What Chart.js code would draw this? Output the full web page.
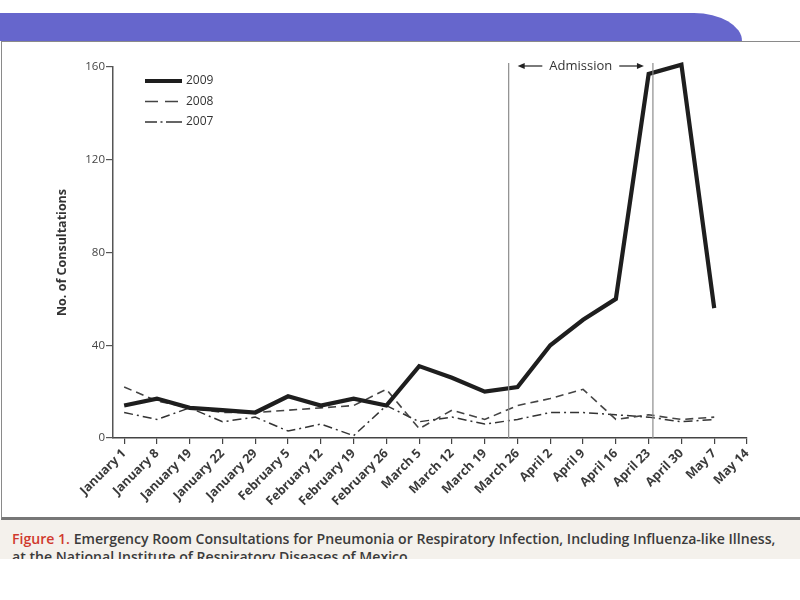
<!DOCTYPE html>
<html>
<head>
<meta charset="utf-8">
<script src="https://cdn.jsdelivr.net/npm/chart.js@4"></script>
<style>
body { margin:0; width:800px; height:600px; background:#fff; position:relative; overflow:hidden; font-family:"Open Sans", sans-serif; }
#banner { position:absolute; left:0; top:13px; width:742px; height:28px; background:#6666cc; border-top-right-radius:48px 28px; }
#frame { position:absolute; left:1px; top:41px; width:820px; height:475px; border-top:1.5px solid #8a8a8a; border-left:1.5px solid #8a8a8a; border-bottom:3px solid #777; }
#wrap { position:absolute; left:0; top:42px; width:800px; height:475px; }
#caption { position:absolute; left:0; top:520px; width:800px; height:39px; background:#f4f1ec; overflow:hidden;
  box-sizing:border-box; padding:10px 0 0 12px; font-size:14.1px; line-height:18px; font-weight:600; color:#3b3b3b; white-space:nowrap; }
#caption span { color:#d03a2e; }
</style>
</head>
<body>
<div id="banner"></div>
<div id="frame"></div>
<div id="wrap"><canvas id="chart"></canvas></div>
<div id="caption"><span>Figure 1.</span> Emergency Room Consultations for Pneumonia or Respiratory Infection, Including Influenza-like Illness,<br>at the National Institute of Respiratory Diseases of Mexico.</div>
<script>
const labels = ["January 1", "January 8", "January 19", "January 22", "January 29", "February 5", "February 12",
    "February 19", "February 26", "March 5", "March 12", "March 19", "March 26", "April 2", "April 9",
    "April 16", "April 23", "April 30", "May 7", "May 14"];
const y2009 = [14, 17, 13, 12, 11, 18, 14, 17, 14, 31, 26, 20, 22, 40, 51, 60, 157, 161, 56, null];
const y2008 = [22, 16, 13, 11, 11, 12, 13, 14, 21, 4, 12, 8, 14, 17, 21, 8, 10, 8, 9, null];
const y2007 = [11, 8, 13, 7, 9, 3, 6, 1, 14, 7, 9, 6, 8, 11, 11, 10, 9, 7, 8, null];
const yTicks = [0, 40, 80, 120, 160];
// start and end of the "Admission" period, in week positions on the x axis
const admission = [11.73, 16.13];

function points(arr) {
    return arr.map((v, i) => ({ x: i, y: v }));
}

const series = [
    { label: "2009", data: y2009, width: 4.2, dash: [], key: [], color: "#1e1e1e" },
    { label: "2008", data: y2008, width: 1.6, dash: [8, 5], key: [13, 7], color: "#444" },
    { label: "2007", data: y2007, width: 1.5, dash: [9, 4, 2, 4], key: [12, 3.5, 2, 3.5, 20], color: "#333" }
];

const decor = {
    id: "decor",
    afterDatasetsDraw(chart) {
        const ctx = chart.ctx;
        const area = chart.chartArea;
        const x = chart.scales.x;
        ctx.save();

        // admission rules
        const xa = x.getPixelForValue(admission[0]);
        const xb = x.getPixelForValue(admission[1]);
        ctx.strokeStyle = "#8c8c8c";
        ctx.lineWidth = 1.2;
        ctx.setLineDash([]);
        [xa, xb].forEach(px => {
            ctx.beginPath();
            ctx.moveTo(px, area.top - 4);
            ctx.lineTo(px, area.bottom);
            ctx.stroke();
        });

        // "Admission" label with arrows
        const ty = area.top - 1;
        ctx.font = "13px 'Open Sans'";
        ctx.fillStyle = "#333";
        ctx.textAlign = "center";
        ctx.textBaseline = "middle";
        const mid = (xa + xb) / 2;
        ctx.fillText("Admission", mid, ty);
        const tw = ctx.measureText("Admission").width;
        ctx.strokeStyle = "#222";
        ctx.fillStyle = "#222";
        ctx.lineWidth = 1.2;
        function arrow(from, to) {
            const dir = Math.sign(to - from);
            ctx.beginPath();
            ctx.moveTo(from, ty);
            ctx.lineTo(to - dir * 4, ty);
            ctx.stroke();
            ctx.beginPath();
            ctx.moveTo(to, ty);
            ctx.lineTo(to - dir * 7, ty - 3);
            ctx.lineTo(to - dir * 7, ty + 3);
            ctx.closePath();
            ctx.fill();
        }
        arrow(mid - tw / 2 - 7, xa + 9);
        arrow(mid + tw / 2 + 7, xb - 9);

        // legend
        ctx.font = "12px 'Open Sans'";
        ctx.textAlign = "left";
        series.forEach((s, i) => {
            const ly = area.top + 14 + i * 20.5;
            const lx = area.left + 32;
            ctx.strokeStyle = s.color;
            ctx.lineWidth = s.width;
            ctx.setLineDash(s.key);
            ctx.beginPath();
            ctx.moveTo(lx, ly);
            ctx.lineTo(lx + 37, ly);
            ctx.stroke();
            ctx.fillStyle = "#333";
            ctx.fillText(s.label, lx + 41, ly);
        });
        ctx.restore();
    }
};

new Chart(document.getElementById("chart"), {
    type: "line",
    data: {
        datasets: series.map(s => ({
            label: s.label,
            data: points(s.data),
            borderColor: s.color,
            borderWidth: s.width,
            borderDash: s.dash,
            borderJoinStyle: "miter",
            pointRadius: 0,
            tension: 0,
            fill: false,
            clip: false
        }))
    },
    options: {
        responsive: true,
        maintainAspectRatio: false,
        animation: false,
        layout: { padding: { top: 25, right: 53, left: 0, bottom: 0 } },
        plugins: { legend: { display: false }, tooltip: { enabled: false } },
        scales: {
            x: {
                type: "linear",
                min: -0.34,
                max: 19,
                afterBuildTicks: (scale) => { scale.ticks = labels.map((l, i) => ({ value: i })); },
                afterFit: (scale) => { scale.height = 79; },
                ticks: {
                    autoSkip: false,
                    maxRotation: 45,
                    minRotation: 45,
                    padding: 2,
                    color: "#3a3a3a",
                    font: { family: "Open Sans", size: 12.5, weight: "bold" },
                    callback: (v) => labels[v]
                },
                grid: { drawOnChartArea: false, tickLength: 6, color: "#444", lineWidth: 1.2 },
                border: { color: "#444", width: 1.5 }
            },
            y: {
                min: 0,
                max: 160,
                afterBuildTicks: (scale) => { scale.ticks = yTicks.map(v => ({ value: v })); },
                afterFit: (scale) => { scale.width = 113; },
                ticks: {
                    padding: 1,
                    color: "#444",
                    font: { family: "Open Sans", size: 11.5 }
                },
                grid: { drawOnChartArea: false, tickLength: 7, color: "#555", lineWidth: 1.2 },
                border: { color: "#555", width: 1.5 },
                title: {
                    display: true,
                    text: "No. of Consultations",
                    color: "#333",
                    font: { family: "Open Sans", size: 12.5, weight: "bold" },
                    padding: { top: 55, bottom: 0 }
                }
            }
        }
    },
    plugins: [decor]
});
</script>
</body>
</html>
